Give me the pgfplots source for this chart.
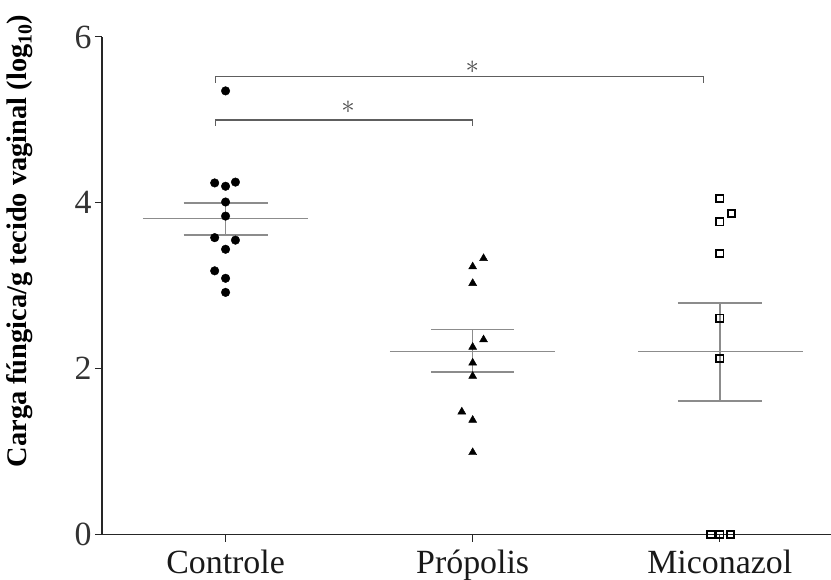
\documentclass[border=0pt]{standalone}
\usepackage{pgfplots}
\pgfplotsset{compat=1.18}
\usepackage{fontspec}
\setmainfont{Liberation Serif}
\usetikzlibrary{calc}
\definecolor{meanc}{HTML}{8C8C8C}
\definecolor{brk}{HTML}{5E5E5E}
\begin{document}
\begin{tikzpicture}
\begin{axis}[
    scale only axis,
    width=729bp, height=497.5bp,
    xmin=0.5, xmax=3.45, ymin=0, ymax=6,
    axis lines=left,
    axis line style={-, line width=1.1bp, black!85},
    xtick={1,2,3},
    xticklabels={Controle, Própolis, Miconazol},
    ytick={0,2,4,6},
    tick align=outside,
    major tick length=7bp,
    tick style={line width=1bp, black!85},
    /pgf/number format/assume math mode=true,
    yticklabel style={font=\fontsize{34}{38}\selectfont, text=black!80},
    xticklabel style={font=\fontsize{34}{38}\selectfont, text=black!90, anchor=base, yshift=-32bp},
    ylabel={Carga fúngica/g tecido vaginal (log\textsubscript{10})},
    ylabel style={at={(rel axis cs:0,0.59)}, anchor=center, yshift=82bp,
        font=\fontsize{28.5}{32}\selectfont\bfseries},
    clip=false,
]
\coordinate (O) at (rel axis cs:0,0);

% media e erro padrao
\addplot[meanc, line width=1.5bp] coordinates {(0.665,3.81) (1.335,3.81)};
\addplot[meanc, line width=1.5bp] coordinates {(0.83,3.995) (1.17,3.995)};
\addplot[meanc, line width=1.5bp] coordinates {(0.83,3.61) (1.17,3.61)};
\addplot[meanc, line width=1.5bp] coordinates {(1,3.61) (1,3.995)};

\addplot[meanc, line width=1.5bp] coordinates {(1.665,2.205) (2.335,2.205)};
\addplot[meanc, line width=1.5bp] coordinates {(1.833,2.47) (2.167,2.47)};
\addplot[meanc, line width=1.5bp] coordinates {(1.833,1.96) (2.167,1.96)};
\addplot[meanc, line width=1.5bp] coordinates {(2,1.96) (2,2.47)};

\addplot[meanc, line width=1.5bp] coordinates {(2.67,2.205) (3.335,2.205)};
\addplot[meanc, line width=1.5bp] coordinates {(2.83,2.79) (3.17,2.79)};
\addplot[meanc, line width=1.5bp] coordinates {(2.83,1.61) (3.17,1.61)};
\addplot[meanc, line width=1.5bp] coordinates {(3,1.61) (3,2.79)};

% Controle
\addplot[only marks, mark=*, mark size=4.3bp, black] coordinates {
    (1,5.35) (0.956,4.24) (1,4.20) (1.04,4.25) (1,4.01) (1,3.84)
    (0.956,3.58) (1.04,3.55) (1,3.44) (0.956,3.18) (1,3.09) (1,2.92)
};
% Propolis
\addplot[only marks, mark=triangle*, mark size=4.6bp, black] coordinates {
    (2.044,3.33) (2,3.23) (2,3.03) (2.044,2.35) (2,2.26) (2,2.07)
    (2,1.91) (1.956,1.48) (2,1.38) (2,0.99)
};
% Miconazol
\addplot[only marks, mark=square, mark size=3.6bp, black, mark options={line width=1.8bp, fill=white}] coordinates {
    (3,4.05) (3.048,3.87) (3,3.77) (3,3.39) (3,2.61) (3,2.12)
    (2.964,0) (3,0) (3.044,0)
};

% comparacoes
\addplot[brk, line width=1.3bp] coordinates {(0.96,5.45) (0.96,5.52) (2.935,5.52) (2.935,5.45)};
\addplot[brk, line width=1.3bp] coordinates {(0.96,4.93) (0.96,5.0) (2.0,5.0) (2.0,4.93)};
\node[text=black!70, scale=2.7, inner sep=0pt] at (axis cs:1.999,5.63) {$\ast$};
\node[text=black!70, scale=2.7, inner sep=0pt] at (axis cs:1.496,5.155) {$\ast$};
\end{axis}
\pgfresetboundingbox
\path ($(O)+(-102bp,-45.5bp)$) rectangle ($(O)+(729bp,534.5bp)$);
\end{tikzpicture}
\end{document}
